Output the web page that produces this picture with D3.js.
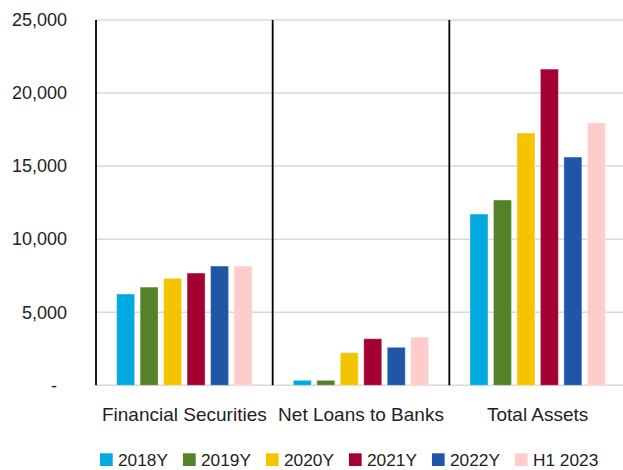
<!DOCTYPE html>
<html>
<head>
<meta charset="utf-8">
<script src="https://cdn.jsdelivr.net/npm/d3@7"></script>
<style>
  html, body { margin: 0; padding: 0; background: #fff; }
  svg { display: block; }
  text { font-family: "Liberation Sans", Arial, sans-serif; fill: #222; }
</style>
</head>
<body>
<svg id="chart" width="623" height="470"></svg>
<script>
const categories = ["Financial Securities", "Net Loans to Banks", "Total Assets"];
const seriesNames = ["2018Y", "2019Y", "2020Y", "2021Y", "2022Y", "H1 2023"];
const seriesColors = ["#00A9E0", "#538229", "#F5C400", "#A50034", "#1F56A6", "#FFCCCC"];
const values2018 = [6250, 340, 11720];
const values2019 = [6720, 340, 12680];
const values2020 = [7320, 2230, 17260];
const values2021 = [7680, 3190, 21640];
const values2022 = [8160, 2600, 15620];
const valuesH12023 = [8160, 3300, 17960];
const yTicks = [0, 5000, 10000, 15000, 20000, 25000];

const seriesValues = [values2018, values2019, values2020, values2021, values2022, valuesH12023];

const svg = d3.select("#chart");
const plot = { left: 96, right: 626, top: 20, bottom: 385.3 };

const x0 = d3.scaleBand().domain(categories).range([plot.left, plot.right]).padding(0);
const x1 = d3.scaleBand().domain(seriesNames).range([0, x0.bandwidth()])
  .paddingInner(0.234).paddingOuter(0.88);
const y = d3.scaleLinear().domain([0, 25000]).range([plot.bottom, plot.top]);

// gridlines
svg.append("g").selectAll("line").data(yTicks).join("line")
  .attr("x1", plot.left).attr("x2", 623)
  .attr("y1", d => y(d)).attr("y2", d => y(d))
  .attr("stroke", "#d9d9d9").attr("stroke-width", 1.5);

// y axis labels
const fmt = d3.format(",");
const yAxis = d3.axisLeft(y).tickValues(yTicks).tickSize(0).tickPadding(0)
  .tickFormat(d => d === 0 ? "-" : fmt(d));
const yg = svg.append("g").attr("transform", "translate(67,0)").call(yAxis);
yg.select(".domain").remove();
yg.selectAll("text")
  .attr("font-family", "Liberation Sans, Arial, sans-serif")
  .attr("font-size", 18).attr("fill", "#222").attr("dy", "0.32em")
  .attr("dx", d => d === 0 ? -10 : 0);

// bars
const data = [];
categories.forEach((c, ci) => {
  seriesNames.forEach((s, si) => {
    data.push({ cat: c, series: s, value: seriesValues[si][ci], color: seriesColors[si] });
  });
});
svg.append("g").selectAll("rect").data(data).join("rect")
  .attr("x", d => x0(d.cat) + x1(d.series))
  .attr("width", x1.bandwidth())
  .attr("y", d => y(d.value))
  .attr("height", d => y(0) - y(d.value))
  .attr("fill", d => d.color)
  .attr("stroke", "#ffffff").attr("stroke-opacity", 0.35).attr("stroke-width", 1);

// category separators
svg.append("g").selectAll("line").data(categories).join("line")
  .attr("x1", d => x0(d)).attr("x2", d => x0(d))
  .attr("y1", plot.top).attr("y2", plot.bottom)
  .attr("stroke", "#000").attr("stroke-width", 1.8);

// category labels
const xAxis = d3.axisBottom(x0).tickSize(0).tickPadding(0);
const xg = svg.append("g").attr("transform", "translate(0,421)").call(xAxis);
xg.select(".domain").remove();
xg.selectAll("text")
  .attr("font-family", "Liberation Sans, Arial, sans-serif")
  .attr("font-size", 19).attr("fill", "#222").attr("dy", 0).attr("y", 0);

// legend
const legend = svg.append("g");
let lx = 100;
seriesNames.forEach((s, i) => {
  const g = legend.append("g").attr("transform", `translate(${lx},0)`);
  g.append("rect").attr("x", 0).attr("y", 453.3).attr("width", 12.7).attr("height", 12.7)
    .attr("fill", seriesColors[i]);
  const t = g.append("text").attr("x", 18).attr("y", 466.3)
    .attr("font-size", 17.3).text(s);
  const w = t.node().getComputedTextLength();
  lx += 18 + w + 15;
});
</script>
</body>
</html>
